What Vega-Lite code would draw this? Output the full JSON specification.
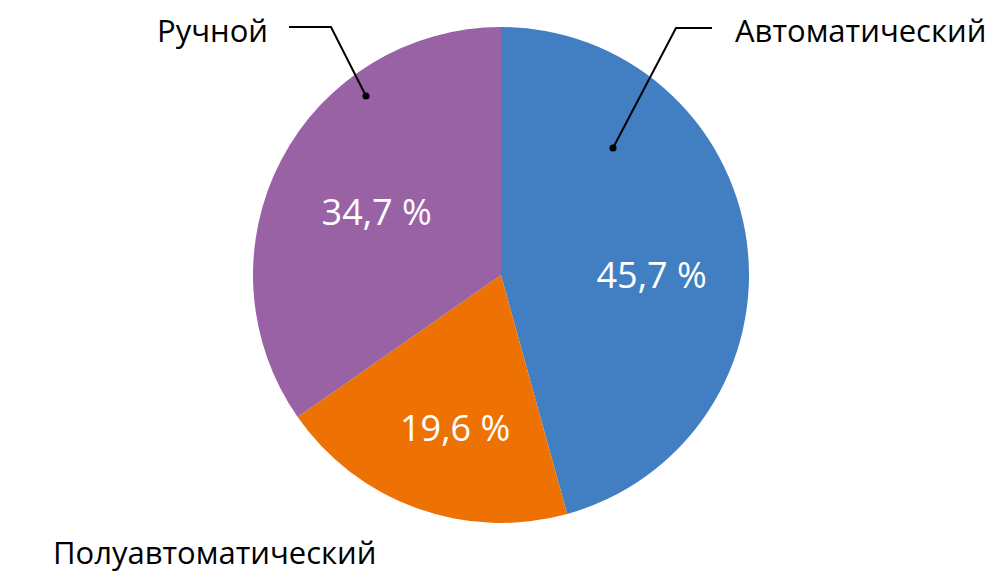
{
  "$schema": "https://vega.github.io/schema/vega-lite/v6.json",
  "width": 986,
  "height": 550,
  "autosize": {"type": "none"},
  "padding": {"left": 8, "top": 0, "right": 0, "bottom": 33},
  "background": "white",
  "config": {"view": {"stroke": null}, "font": "Open Sans"},
  "datasets": {
    "slices": [
      {"category": "Автоматический", "value": 45.7, "label": "45,7 %"},
      {"category": "Полуавтоматический", "value": 19.6, "label": "19,6 %"},
      {"category": "Ручной", "value": 34.7, "label": "34,7 %"}
    ],
    "leaders": [
      {"group": "Автоматический", "seq": 0, "u": 0.4516, "v": 0.5121},
      {"group": "Автоматический", "seq": 1, "u": 0.7056, "v": 0.996},
      {"group": "Автоматический", "seq": 2, "u": 0.8508, "v": 0.996},
      {"group": "Ручной", "seq": 0, "u": -0.5444, "v": 0.7218},
      {"group": "Ручной", "seq": 1, "u": -0.6855, "v": 1.0},
      {"group": "Ручной", "seq": 2, "u": -0.8548, "v": 1.0}
    ],
    "names": [
      {"category": "Автоматический", "u": 0.9435, "v": 0.9395, "side": "left"},
      {"category": "Полуавтоматический", "u": -1.8065, "v": -1.1653, "side": "left"},
      {"category": "Ручной", "u": -0.9395, "v": 0.9395, "side": "right"}
    ]
  },
  "layer": [
    {
      "data": {"name": "slices"},
      "mark": {"type": "arc", "outerRadius": 248},
      "encoding": {
        "theta": {"field": "value", "type": "quantitative", "stack": true},
        "order": {"field": "category", "sort": "ascending"},
        "color": {
          "field": "category",
          "type": "nominal",
          "sort": ["Автоматический", "Полуавтоматический", "Ручной"],
          "scale": {"domain": ["Автоматический", "Полуавтоматический", "Ручной"], "range": ["#427EC2", "#EE7203", "#9962A5"]},
          "legend": null
        }
      }
    },
    {
      "data": {"name": "slices"},
      "mark": {"type": "text", "radius": 150, "dx": 2, "dy": 22, "fontSize": 36, "color": "white", "align": "center", "baseline": "middle"},
      "encoding": {
        "theta": {"field": "value", "type": "quantitative", "stack": true},
        "order": {"field": "category", "sort": "ascending"},
        "text": {"condition": {"test": "datum.category === 'Автоматический'", "field": "label"}, "value": ""}
      }
    },
    {
      "data": {"name": "slices"},
      "mark": {"type": "text", "radius": 162, "dx": 9, "dy": 3, "fontSize": 36, "color": "white", "align": "center", "baseline": "middle"},
      "encoding": {
        "theta": {"field": "value", "type": "quantitative", "stack": true},
        "order": {"field": "category", "sort": "ascending"},
        "text": {"condition": {"test": "datum.category === 'Полуавтоматический'", "field": "label"}, "value": ""}
      }
    },
    {
      "data": {"name": "slices"},
      "mark": {"type": "text", "radius": 138, "dx": -2, "dy": 3, "fontSize": 36, "color": "white", "align": "center", "baseline": "middle"},
      "encoding": {
        "theta": {"field": "value", "type": "quantitative", "stack": true},
        "order": {"field": "category", "sort": "ascending"},
        "text": {"condition": {"test": "datum.category === 'Ручной'", "field": "label"}, "value": ""}
      }
    },
    {
      "data": {"name": "leaders"},
      "mark": {"type": "line", "color": "black", "strokeWidth": 2, "clip": false},
      "encoding": {
        "x": {"field": "u", "type": "quantitative", "scale": {"domain": [-1.9879, 1.9879], "nice": false, "zero": false}, "axis": null},
        "y": {"field": "v", "type": "quantitative", "scale": {"domain": [-1.10887, 1.10887], "nice": false, "zero": false}, "axis": null},
        "detail": {"field": "group"},
        "order": {"field": "seq"}
      }
    },
    {
      "data": {"name": "leaders"},
      "transform": [{"filter": "datum.seq === 0"}],
      "mark": {"type": "point", "filled": true, "color": "black", "size": 50, "opacity": 1, "clip": false},
      "encoding": {
        "x": {"field": "u", "type": "quantitative"},
        "y": {"field": "v", "type": "quantitative"}
      }
    },
    {
      "data": {"name": "names"},
      "transform": [{"filter": "datum.side === 'left'"}],
      "mark": {"type": "text", "align": "left", "baseline": "alphabetic", "fontSize": 31, "color": "black", "clip": false},
      "encoding": {
        "x": {"field": "u", "type": "quantitative"},
        "y": {"field": "v", "type": "quantitative"},
        "text": {"field": "category"}
      }
    },
    {
      "data": {"name": "names"},
      "transform": [{"filter": "datum.side === 'right'"}],
      "mark": {"type": "text", "align": "right", "baseline": "alphabetic", "fontSize": 31, "color": "black", "clip": false},
      "encoding": {
        "x": {"field": "u", "type": "quantitative"},
        "y": {"field": "v", "type": "quantitative"},
        "text": {"field": "category"}
      }
    }
  ]
}
